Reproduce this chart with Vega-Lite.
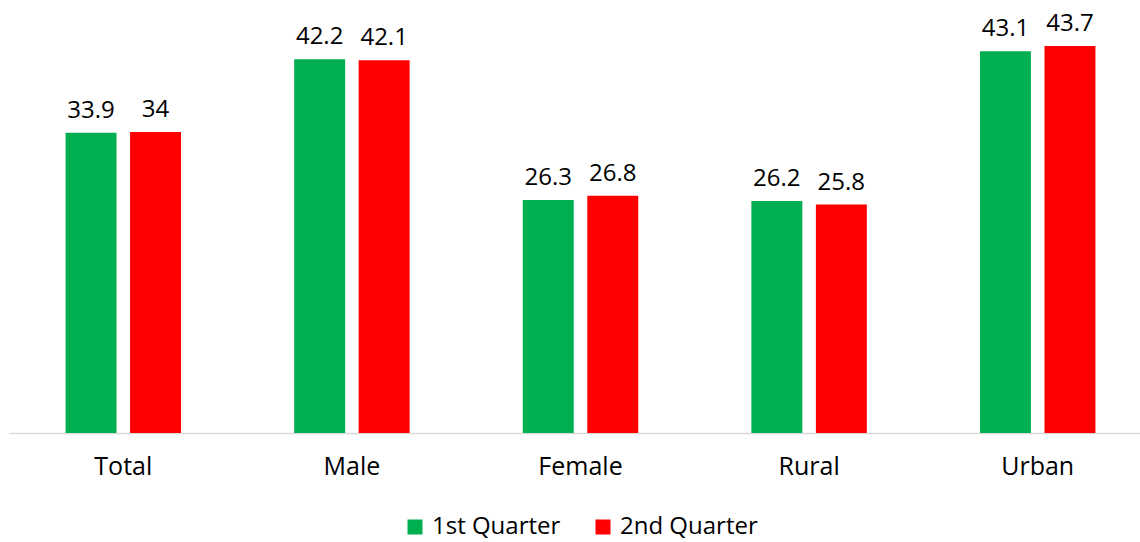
{
  "$schema": "https://vega.github.io/schema/vega-lite/v6.json",
  "width": 1131,
  "height": 433,
  "autosize": {"type": "none"},
  "padding": {"left": 9, "top": 0, "right": 0, "bottom": 109},
  "config": {"view": {"stroke": null}, "font": "Open Sans"},
  "data": {
    "values": [
      {"group": "Total", "quarter": "1st Quarter", "value": 33.9},
      {"group": "Total", "quarter": "2nd Quarter", "value": 34},
      {"group": "Male", "quarter": "1st Quarter", "value": 42.2},
      {"group": "Male", "quarter": "2nd Quarter", "value": 42.1},
      {"group": "Female", "quarter": "1st Quarter", "value": 26.3},
      {"group": "Female", "quarter": "2nd Quarter", "value": 26.8},
      {"group": "Rural", "quarter": "1st Quarter", "value": 26.2},
      {"group": "Rural", "quarter": "2nd Quarter", "value": 25.8},
      {"group": "Urban", "quarter": "1st Quarter", "value": 43.1},
      {"group": "Urban", "quarter": "2nd Quarter", "value": 43.7}
    ]
  },
  "encoding": {
    "x": {
      "field": "group",
      "type": "nominal",
      "sort": ["Total", "Male", "Female", "Rural", "Urban"],
      "scale": {"range": [0, 1143], "paddingInner": 0, "paddingOuter": 0},
      "axis": {
        "title": null,
        "labelAngle": 0,
        "ticks": false,
        "domainColor": "#d9d9d9",
        "domainWidth": 1.5,
        "labelFontSize": 25,
        "labelPadding": 21,
        "labelColor": "#000000"
      }
    },
    "xOffset": {
      "field": "quarter",
      "type": "nominal",
      "scale": {"paddingInner": 0.21, "paddingOuter": 0.877}
    },
    "y": {
      "field": "value",
      "type": "quantitative",
      "scale": {"domain": [0, 48.9]},
      "axis": null
    }
  },
  "layer": [
    {
      "mark": {"type": "bar"},
      "encoding": {
        "color": {
          "field": "quarter",
          "type": "nominal",
          "scale": {"domain": ["1st Quarter", "2nd Quarter"], "range": ["#00b050", "#ff0000"]},
          "legend": {
            "title": null,
            "orient": "none",
            "legendX": 394,
            "legendY": 515,
            "direction": "horizontal",
            "symbolType": "square",
            "symbolSize": 225,
            "symbolStrokeWidth": 0,
            "labelFontSize": 24,
            "labelColor": "#000000",
            "labelOffset": 5,
            "columnPadding": 30,
            "labelLimit": 300
          }
        }
      }
    },
    {
      "mark": {"type": "text", "dy": -15, "baseline": "alphabetic", "fontSize": 24, "color": "#000000"},
      "encoding": {"text": {"field": "value", "type": "quantitative"}}
    }
  ]
}
